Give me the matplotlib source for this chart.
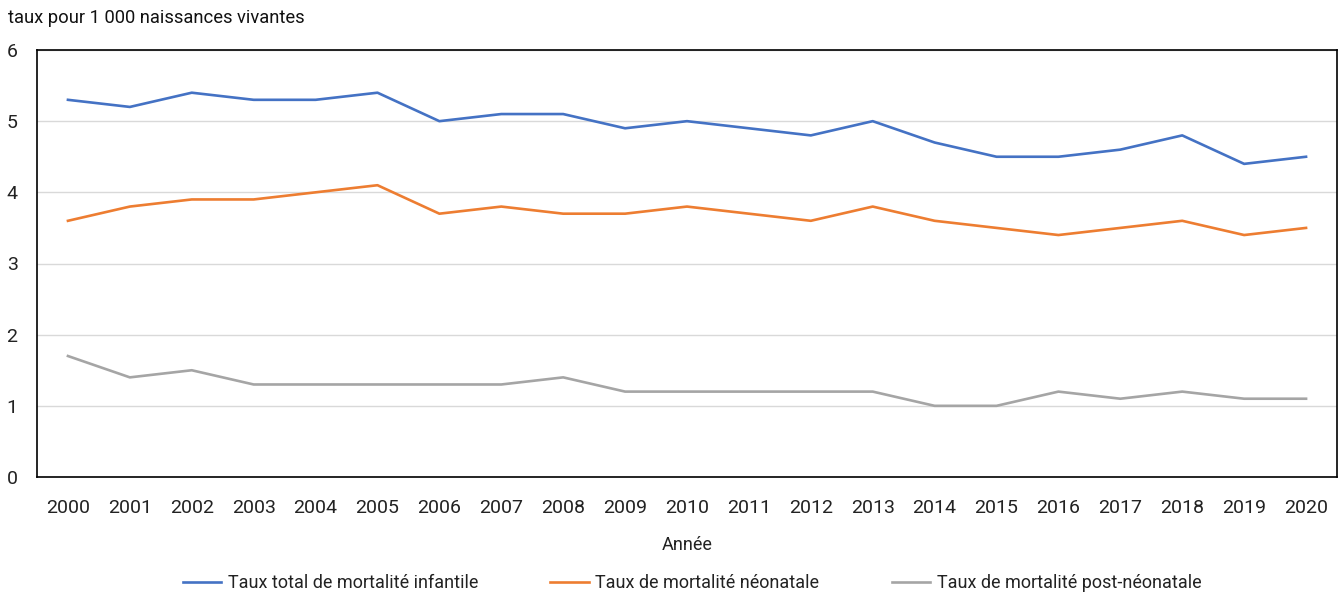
import matplotlib
matplotlib.use("Agg")
import matplotlib.pyplot as plt
from matplotlib import font_manager

years = [str(y) for y in range(2000, 2021)]
total = [5.3, 5.2, 5.4, 5.3, 5.3, 5.4, 5.0, 5.1, 5.1, 4.9, 5.0,
         4.9, 4.8, 5.0, 4.7, 4.5, 4.5, 4.6, 4.8, 4.4, 4.5]
neonatal = [3.6, 3.8, 3.9, 3.9, 4.0, 4.1, 3.7, 3.8, 3.7, 3.7, 3.8,
            3.7, 3.6, 3.8, 3.6, 3.5, 3.4, 3.5, 3.6, 3.4, 3.5]
post_neonatal = [1.7, 1.4, 1.5, 1.3, 1.3, 1.3, 1.3, 1.3, 1.4, 1.2, 1.2,
                 1.2, 1.2, 1.2, 1.0, 1.0, 1.2, 1.1, 1.2, 1.1, 1.1]
series_names = ["Taux total de mortalité infantile",
                "Taux de mortalité néonatale",
                "Taux de mortalité post-néonatale"]
y_ticks = [0, 1, 2, 3, 4, 5, 6]

available = {f.name for f in font_manager.fontManager.ttflist}
family = "Liberation Sans Narrow" if "Liberation Sans Narrow" in available else "Roboto"
plt.rcParams["font.family"] = [family, "DejaVu Sans"]

fig = plt.figure(figsize=(13.42, 5.96), dpi=100)
ax = fig.add_axes([37 / 1342, 119 / 596, 1300 / 1342, 427 / 596])

colors = ["#4472C4", "#ED7D31", "#A5A5A5"]
x = list(range(len(years)))
for vals, name, c in zip([total, neonatal, post_neonatal], series_names, colors):
    ax.plot(x, vals, color=c, lw=1.9, label=name, solid_joinstyle="round")

ax.set_xlim(-0.5, len(years) - 0.5)
ax.set_ylim(0, 6)
ax.set_yticks(y_ticks)
ax.set_xticks(x)
ax.set_xticklabels(years)
ax.grid(axis="y", color="#D9D9D9", lw=1)
ax.set_axisbelow(True)
for s in ax.spines.values():
    s.set_color("black")
    s.set_linewidth(1.2)
ax.tick_params(axis="both", length=0, labelsize=14, colors="#222222")
ax.tick_params(axis="x", pad=15.5)
ax.tick_params(axis="y", pad=14)

ax.set_xlabel("Année", fontsize=13, color="#222222", labelpad=14)
fig.text(8 / 1342, 1 - 18 / 596, "taux pour 1 000 naissances vivantes",
         fontsize=13.2, color="#111111", va="center", ha="left")

fig.legend(loc="center", bbox_to_anchor=(692 / 1342, 1 - 583 / 596), ncol=3,
           frameon=False, fontsize=13, handlelength=2.15, handletextpad=0.35,
           columnspacing=4.0, labelcolor="#222222")

fig.savefig("out.png", dpi=100)
